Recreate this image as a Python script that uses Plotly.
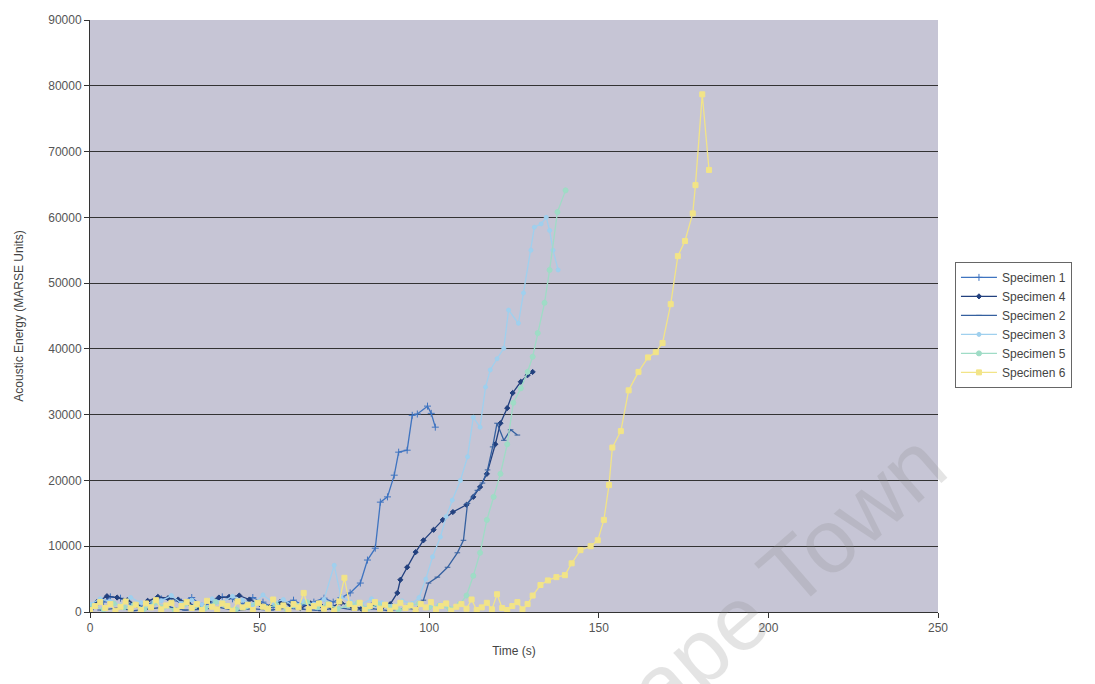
import plotly.graph_objects as go

# Acoustic energy (MARSE units) against time for six specimens

s1_t = [1, 4, 6, 9, 12, 15, 18, 21, 24, 27, 30, 33, 36, 39, 42, 45, 48, 51, 54, 57, 60, 63, 66, 69, 71.7,
        74, 76.7, 79.7, 81.8, 84.1, 85.6, 87.7, 89.7, 91, 93.5, 95, 96.5, 99.5, 100.6, 101.8]
s1_e = [800, 1500, 2300, 2100, 1200, 800, 1300, 2000, 1800, 1500, 2200, 900, 1400, 2300, 2000, 1200, 2200,
        1500, 700, 1300, 1800, 1000, 1500, 2100, 1500, 2200, 2900, 4400, 7900, 9700, 16700, 17500, 20800,
        24300, 24600, 29900, 30100, 31300, 30200, 28100]

s4_t = [2, 5, 8, 11, 14, 17, 20, 23, 26, 29, 32, 35, 38, 41, 44, 47, 50, 53, 56, 59, 62, 65, 68, 71, 74,
        77, 80, 83, 86, 88.5, 90.6, 91.5, 93.5, 96, 98.3, 101.3, 104, 107, 111, 113, 115, 117, 119.5,
        121, 123, 124.6, 127, 129, 130.5]
s4_e = [1500, 2400, 2200, 1800, 1000, 1700, 2300, 2100, 1900, 1400, 700, 1600, 2200, 2300, 2500, 1900,
        1200, 800, 1500, 1100, 600, 1300, 1000, 700, 1400, 900, 500, 1000, 700, 1200, 2900, 4900, 6800,
        9100, 10900, 12500, 14000, 15200, 16300, 17500, 19000, 21000, 25500, 28700, 31000, 33300, 35000,
        36000, 36500]

s2_t = [3, 8, 13, 18, 23, 28, 33, 38, 43, 48, 53, 58, 63, 68, 73, 78, 83, 88, 93, 96, 98.3, 99.8, 102.4,
        105.4, 108.3, 110.1, 111.3, 114.2, 115.7, 117.2, 118.7, 120, 122, 124, 126]
s2_e = [300, 600, 200, 500, 800, 300, 400, 700, 200, 500, 300, 600, 400, 200, 700, 300, 500, 200, 600,
        400, 1800, 4400, 5300, 6800, 9000, 10900, 16500, 18500, 19600, 21600, 25100, 28700, 26100, 27700,
        26900]

s3_t = [0, 3, 6, 9, 12, 15, 18, 21, 24, 27, 30, 33, 36, 39, 42, 45, 48, 51, 54, 57, 60, 63, 66, 69, 72,
        74, 77, 80, 83, 86, 89, 92, 95, 97, 99, 101, 103.3, 105, 106.8, 109.2, 111.3, 113, 115, 116.6, 118,
        120, 122, 123.4, 126.3, 127.8, 130, 131, 133, 134.5, 135.5, 136.5, 138]
s3_e = [1200, 2000, 1600, 1000, 2200, 1400, 900, 1700, 2500, 1300, 1800, 1100, 2000, 1500, 2400, 1800,
        1100, 2600, 1400, 1900, 900, 1600, 1200, 1900, 7100, 2300, 1500, 1200, 2000, 1400, 900, 1700, 1300,
        2200, 5000, 8400, 11400, 14500, 17000, 20000, 23600, 29600, 28100, 34200, 36800, 38500, 40100,
        45900, 43900, 48500, 55000, 58500, 59000, 60000, 58000, 55000, 52000]

s5_t = [1, 4, 7, 10, 13, 16, 19, 22, 25, 28, 31, 34, 37, 40, 43, 46, 49, 52, 55, 58, 61, 64, 67, 70, 73,
        76, 79, 82, 85, 88, 91, 94, 97, 100, 103, 106, 109, 111, 113, 115, 117, 119, 121, 123, 124.8, 127,
        129, 130.5, 132, 134, 135.5, 137.8, 140.2]
s5_e = [900, 400, 1300, 700, 1100, 500, 1400, 800, 300, 1200, 900, 600, 1500, 1000, 400, 800, 1300, 600,
        1100, 400, 900, 1500, 700, 1200, 500, 1000, 1400, 600, 1100, 800, 300, 900, 1300, 700, 1000, 500,
        1200, 2500, 5500, 9000, 14000, 17500, 21000, 25500, 31800, 34000, 36500, 38800, 42400, 47000,
        52000, 60800, 64100]

s6_t = [0, 1.5, 3, 4.5, 6, 7.5, 9, 10.5, 12, 13.5, 15, 16.5, 18, 19.5, 21, 22.5, 24, 25.5, 27, 28.5, 30,
        31.5, 33, 34.5, 36, 37.5, 39, 40.5, 42, 43.5, 45, 46.5, 48, 49.5, 51, 52.5, 54, 55.5, 57, 58.5, 60,
        61.5, 63, 64.5, 66, 67.5, 69, 70.5, 72, 73.5, 75, 76.5, 78, 79.5, 81, 82.5, 84, 85.5, 87, 88.5, 90,
        91.5, 93, 94.5, 96, 97.5, 99, 100.5, 102, 103.5, 105, 106.5, 108, 109.5, 111, 112.5, 114, 115.5,
        117, 118.5, 120, 121.5, 123, 124.5, 126, 127.5, 129, 130.5, 132.8, 135, 137.5, 140, 142, 144.6,
        147.6, 149.7, 151.5, 153, 154, 156.5, 158.8, 161.7, 164.5, 166.8, 168.8, 171.2, 173.3, 175.4,
        177.7, 178.5, 180.5, 182.5]
s6_e = [300, 900, 1500, 600, 1200, 200, 800, 1600, 500, 1100, 300, 1300, 700, 1800, 400, 1000, 1400,
        200, 900, 1500, 600, 1200, 300, 1700, 800, 400, 1300, 900, 200, 1600, 700, 1100, 300, 1400, 800,
        500, 1900, 600, 1000, 300, 1200, 700, 2900, 400, 900, 1300, 500, 1100, 200, 1600, 5200, 1200, 600,
        1400, 300, 900, 1500, 500, 1100, 200, 800, 1400, 600, 1000, 300, 1200, 700, 1500, 400, 900, 1300,
        200, 800, 1200, 500, 1900, 300, 700, 1400, 400, 2700, 600, 300, 900, 1500, 400, 1200, 2500, 4100,
        4800, 5300, 5600, 7400, 9400, 10000, 10900, 14000, 19300, 25000, 27500, 33700, 36500, 38700,
        39500, 40900, 46800, 54100, 56400, 60600, 64900, 78700, 67200, 62300]

series = [
    ("Specimen 1", s1_t, s1_e, "#3f74c0", "cross-thin", 5),
    ("Specimen 4", s4_t, s4_e, "#22407e", "diamond", 4),
    ("Specimen 2", s2_t, s2_e, "#35609f", "line-ew", 4),
    ("Specimen 3", s3_t, s3_e, "#9fd0ee", "circle", 4),
    ("Specimen 5", s5_t, s5_e, "#9fdcc6", "circle", 5),
    ("Specimen 6", s6_t, s6_e, "#f2e487", "square", 5),
]

x_ticks = [0, 50, 100, 150, 200, 250]
y_ticks = [0, 10000, 20000, 30000, 40000, 50000, 60000, 70000, 80000, 90000]

fig = go.Figure()
for name, t, e, col, sym, size in series:
    fig.add_trace(go.Scatter(
        x=t, y=e, name=name, mode="lines+markers",
        line=dict(color=col, width=1.3),
        marker=dict(color=col, symbol=sym, size=size, line=dict(color=col, width=1)),
    ))

base_font = "Liberation Sans, Arial, sans-serif"

fig.update_layout(
    width=1095, height=684,
    margin=dict(l=90, r=157, t=20, b=72),
    paper_bgcolor="white",
    plot_bgcolor="#c6c5d5",
    font=dict(family=base_font, size=12, color="#555555"),
    showlegend=True,
    legend=dict(
        x=1.02, y=0.485, xanchor="left", yanchor="middle",
        bgcolor="white", bordercolor="#666666", borderwidth=1,
        font=dict(family=base_font, size=12, color="#444444"),
        tracegroupgap=0, itemwidth=36,
    ),
    xaxis=dict(
        range=[0, 250], tickvals=x_ticks, ticktext=[str(v) for v in x_ticks],
        showgrid=False, zeroline=False, showline=True, linecolor="#333333", linewidth=1,
        ticks="outside", ticklen=5, tickcolor="#333333",
        title=dict(text="Time (s)", font=dict(size=12, color="#444444"), standoff=12),
    ),
    yaxis=dict(
        range=[0, 90000], tickvals=y_ticks, ticktext=[str(v) for v in y_ticks],
        showgrid=True, gridcolor="#333333", gridwidth=1.3,
        zeroline=False, showline=True, linecolor="#333333", linewidth=1,
        ticks="outside", ticklen=5, tickcolor="#333333",
        title=dict(text="Acoustic Energy (MARSE Units)", font=dict(size=12, color="#444444"), standoff=22),
    ),
)

# faint diagonal watermark running off the lower right corner
wm_px, wm_py = 762, 598
fig.add_annotation(
    x=(wm_px - 90) / 848, y=(612 - wm_py) / 592, xref="paper", yref="paper",
    xanchor="center", yanchor="middle",
    text="Cape Town", showarrow=False, textangle=-41,
    font=dict(family=base_font, size=90, color="#8a8a8a"),
    opacity=0.22,
)

fig.write_html("out.html")
